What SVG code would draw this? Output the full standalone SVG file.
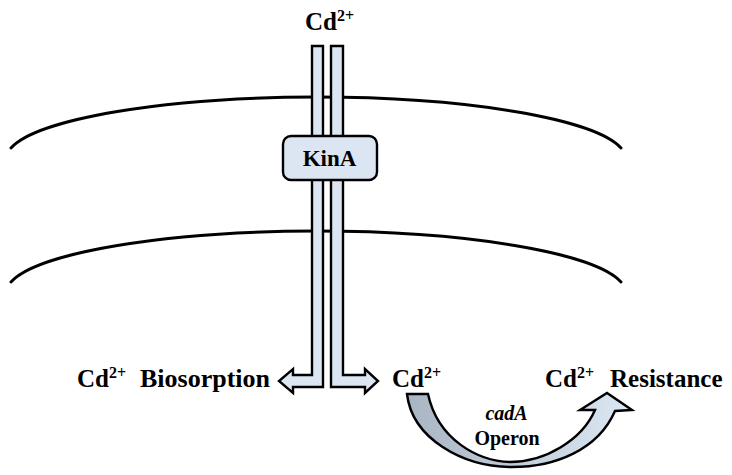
<svg xmlns="http://www.w3.org/2000/svg" width="732" height="475" viewBox="0 0 732 475">
<style>
.mem{fill:none;stroke:#000;stroke-width:3;stroke-linecap:round}
.tube{fill:#dce6f2;stroke:#000;stroke-width:2.4;stroke-linejoin:miter}
text{font-family:'Liberation Serif','DejaVu Serif',serif;font-weight:bold;font-size:25px;fill:#000}
.sup{font-size:16px}
.box{fill:#dce6f2;stroke:#000;stroke-width:2.4}
</style>
<defs>
<linearGradient id="cadGrad" gradientUnits="userSpaceOnUse" x1="407" y1="0" x2="632" y2="0">
<stop offset="0" stop-color="#a9b5c3"/>
<stop offset="0.4" stop-color="#bdc8d5"/>
<stop offset="1" stop-color="#dde8f5"/>
</linearGradient>
</defs>
<rect width="732" height="475" fill="#fff"/>
<g id="membrane-outer"><path class="mem" d="M 11 148 A 310 62 0 0 1 621 148"/></g>
<g id="membrane-inner"><path class="mem" d="M 11 282 A 310 62 0 0 1 621 282"/></g>
<g id="connectors">
<path id="channel-left" class="tube" d="M 312 46 L 323 46 L 323 387 L 293 387 L 293 393 L 279 381 L 293 369 L 293 375 L 312 375 Z"/>
<path id="channel-right" class="tube" d="M 331 46 L 343 46 L 343 375 L 365 375 L 365 369 L 378 381 L 365 393 L 365 387 L 331 387 Z"/>
<path id="cadA-arrow" fill="url(#cadGrad)" stroke="#000" stroke-width="2.4" stroke-linejoin="miter" d="M 407 394 L 428 394 C 438 440 478 461 510 462 C 545 462 582 440 595 410 L 580 410 L 607 393 L 632 410 L 615 411 C 598 450 555 467 512 467 C 462 467 412 438 407 394 Z"/>
</g>
<g id="kinA">
<rect class="box" x="283" y="136" width="94" height="44" rx="8"/>
<text font-family="Liberation Serif, serif" x="329.5" y="166" text-anchor="middle" style="font-size:23px">KinA</text>
</g>
<g id="cd-top"><text font-family="Liberation Serif, serif" x="305" y="30">Cd<tspan class="sup" dy="-9">2+</tspan></text></g>
<g id="cd-biosorption"><text font-family="Liberation Serif, serif" x="77" y="387">Cd<tspan class="sup" dy="-9">2+</tspan><tspan x="140" dy="9" style="font-size:26px">Biosorption</tspan></text></g>
<g id="cd-mid"><text font-family="Liberation Serif, serif" x="392" y="387">Cd<tspan class="sup" dy="-9">2+</tspan></text></g>
<g id="cd-resistance"><text font-family="Liberation Serif, serif" x="545" y="387">Cd<tspan class="sup" dy="-9">2+</tspan><tspan x="610" dy="9">Resistance</tspan></text></g>
<g id="cadA-operon">
<text font-family="Liberation Serif, serif" x="506.5" y="420" text-anchor="middle" style="font-size:20px;font-style:italic">cadA</text>
<text font-family="Liberation Serif, serif" x="507" y="445" text-anchor="middle" style="font-size:20px">Operon</text>
</g>
</svg>
